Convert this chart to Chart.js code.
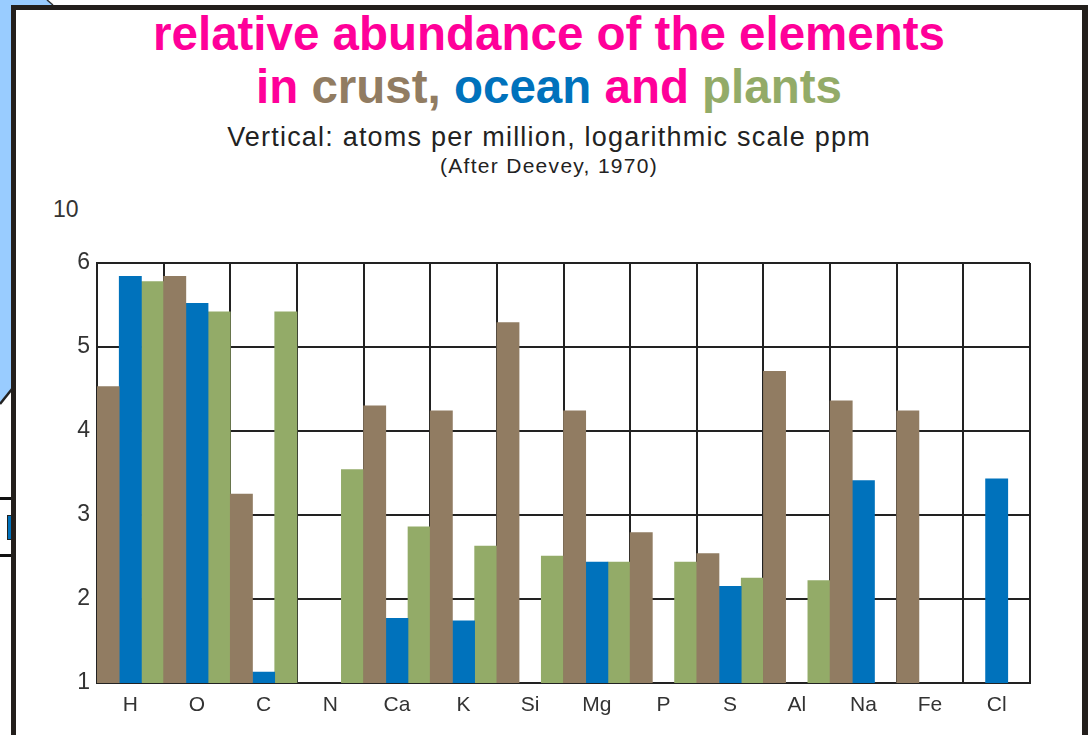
<!DOCTYPE html>
<html>
<head>
<meta charset="utf-8">
<title>Relative abundance of the elements</title>
<script src="https://cdn.jsdelivr.net/npm/chart.js@4.4.1/dist/chart.umd.min.js"></script>
<style>
    html, body { margin: 0; padding: 0; width: 1088px; height: 735px; overflow: hidden; background: #fff; }
    body { position: relative; font-family: "Liberation Sans", Arial, sans-serif; }
    #deco { position: absolute; left: 0; top: 0; }
    .line { position: absolute; left: 16px; width: 1066px; text-align: center; white-space: nowrap; line-height: 1; }
    #t1 { top: 10px; font-size: 47.5px; font-weight: bold; color: #ff0099; }
    #t2 { top: 63px; font-size: 47.5px; font-weight: bold; color: #ff0099; }
    #sub1 { top: 124px; font-size: 27px; letter-spacing: 1.2px; color: #222; }
    #sub2 { top: 155px; font-size: 21px; letter-spacing: 1.3px; color: #222; }
    #base10 { position: absolute; left: 53px; top: 198px; font-size: 23px; line-height: 1; color: #333; }
    #chartBox { position: absolute; left: 16px; top: 190px; width: 1066px; height: 545px; }
</style>
</head>
<body>
<svg id="deco" width="1088" height="735">
    <polygon points="0,0 48,0 53,5 12,5 12,388 0,403" fill="#99ccff"/>
    <line x1="47" y1="0" x2="53" y2="5" stroke="#333" stroke-width="1.5"/>
    <line x1="0" y1="404" x2="12" y2="389" stroke="#222" stroke-width="2.5"/>
    <rect x="0" y="497" width="12" height="3" fill="#111"/>
    <rect x="0" y="554" width="12" height="3" fill="#111"/>
    <rect x="7.5" y="515.5" width="5" height="24" fill="#0072bc" stroke="#222" stroke-width="1"/>
    <rect x="11" y="5" width="5" height="730" fill="#231f1c"/>
    <rect x="11" y="5" width="1077" height="5" fill="#231f1c"/>
    <rect x="1082" y="5" width="6" height="730" fill="#231f1c"/>
</svg>

<div class="line" id="t1">relative abundance of the elements</div>
<div class="line" id="t2">in <span style="color:#917c62">crust,</span> <span style="color:#0072bc">ocean</span> and <span style="color:#93ab68">plants</span></div>
<div class="line" id="sub1">Vertical: atoms per million, logarithmic scale ppm</div>
<div class="line" id="sub2">(After Deevey, 1970)</div>
<div id="base10">10</div>

<div id="chartBox"><canvas id="chart"></canvas></div>

<script>
// exponent of 10 (atoms per million)
const elements = ['H', 'O', 'C', 'N', 'Ca', 'K', 'Si', 'Mg', 'P', 'S', 'Al', 'Na', 'Fe', 'Cl'];
const crust  = [4.53, 5.84, 3.25, null, 4.30, 4.24, 5.29, 4.24, 2.79, 2.54, 4.71, 4.36, 4.24, null];
const ocean  = [5.84, 5.52, 1.13, null, 1.77, 1.74, null, 2.44, null, 2.15, null, 3.41, null, 3.43];
const plants = [5.78, 5.42, 5.42, 3.54, 2.86, 2.63, 2.51, 2.44, 2.44, 2.25, 2.22, null, null, null];
const yTicks = [1, 2, 3, 4, 5, 6];

const LINE = '#222';

const ctx = document.getElementById('chart').getContext('2d');
new Chart(ctx, {
    type: 'bar',
    data: {
        labels: elements,
        datasets: [
            { label: 'crust', data: crust, backgroundColor: '#917c62' },
            { label: 'ocean', data: ocean, backgroundColor: '#0072bc' },
            { label: 'plants', data: plants, backgroundColor: '#93ab68' }
        ]
    },
    options: {
        responsive: true, maintainAspectRatio: false, animation: false,
        datasets: { bar: { categoryPercentage: 1, barPercentage: 1, borderWidth: 0 } },
        layout: { padding: { top: 73, right: 52, left: 0, bottom: 0 } },
        plugins: { legend: { display: false }, tooltip: { enabled: false } },
        scales: {
            x: {
                z: 1,
                grid: { offset: true, color: LINE, lineWidth: 2, drawTicks: false },
                border: { color: LINE, width: 2 },
                ticks: { color: '#333', padding: 10, font: { family: 'Liberation Sans', size: 21 } },
                afterFit: s => { s.height = 52; }
            },
            y: {
                z: 1,
                min: 1, max: 6,
                afterBuildTicks: s => { s.ticks = yTicks.map(v => ({ value: v })); },
                grid: { color: LINE, lineWidth: 2, drawTicks: false },
                border: { color: LINE, width: 2 },
                ticks: { color: '#333', padding: 7, font: { family: 'Liberation Sans', size: 23 } },
                afterFit: s => { s.width = 81; }
            }
        }
    }
});
</script>
</body>
</html>
